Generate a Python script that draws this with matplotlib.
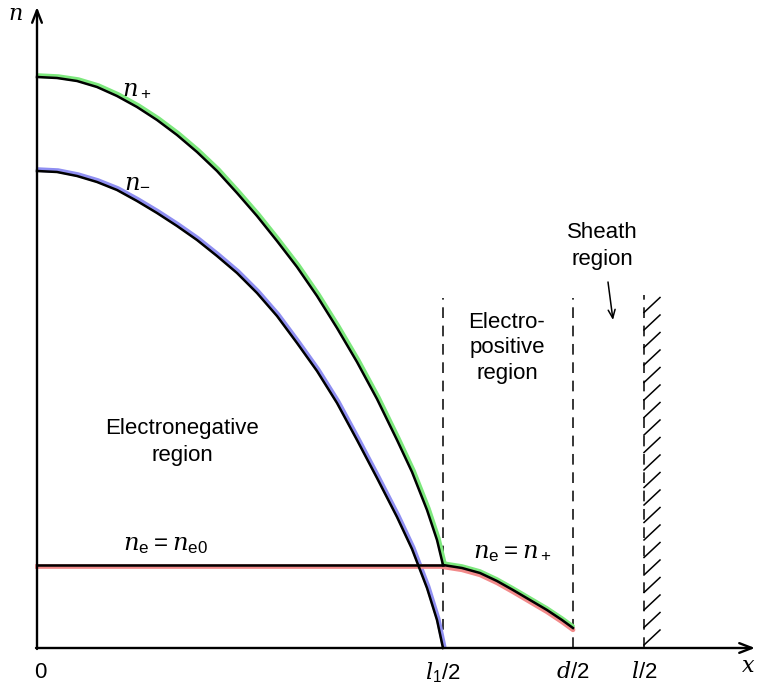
import numpy as np
import matplotlib
matplotlib.use("Agg")
import matplotlib.pyplot as plt
import matplotlib.transforms as mtransforms

plt.rcParams['mathtext.fontset'] = 'custom'
plt.rcParams['mathtext.it'] = 'DejaVu Serif:italic'
plt.rcParams['mathtext.rm'] = 'Liberation Sans'
plt.rcParams['mathtext.sf'] = 'Liberation Sans'
plt.rcParams['font.family'] = ['Liberation Sans', 'DejaVu Sans']

# ---- data (arbitrary units) ----
x_plus = [0, 20, 40, 60, 80, 100, 120, 140, 160, 180, 200, 220, 240, 260, 280,
          300, 320, 340, 360, 375, 390, 400, 406]
n_plus = [571, 570, 567, 561, 552, 541, 528, 513, 496, 477, 455, 432, 407, 381, 352,
          320, 286, 249, 208, 176, 138, 108, 83]

x_minus = [0, 20, 40, 60, 80, 100, 120, 140, 160, 180, 200, 220, 240, 260, 280,
           300, 320, 340, 360, 375, 390, 400, 406]
n_minus = [477, 476, 472, 466, 458, 447, 435, 422, 408, 392, 375, 355, 332, 305, 277,
           245, 208, 170, 131, 99, 60, 28, 0]

x_e_flat = [0, 406]
n_e_flat = [83, 83]

x_e_pos = [406, 425, 443, 460, 476, 493, 510, 525, 536]
n_e_pos = [83, 80, 75, 67, 58, 48, 38, 28, 20]

x_l1 = 406     # l1/2
x_d = 536      # d/2
x_l = 607      # l/2
tick_pos = [0, x_l1, x_d, x_l]
tick_labels = ['0', r'$l_1/2$', r'$d/2$', r'$l/2$']

# ---- figure ----
fig = plt.figure(figsize=(7.68, 6.84), dpi=100)
ax = fig.add_axes([0, 0, 1, 1])
ax.set_xlim(-37, 731)
ax.set_ylim(-36, 648)
ax.axis('off')

def off(dx, dy):
    return ax.transData + mtransforms.ScaledTranslation(dx / 72, dy / 72, fig.dpi_scale_trans)

green = '#7de87d'
blue = '#8f8ff2'
red = '#f28a8a'
hl_lw = 3.4
blk_lw = 1.8

# highlights
ax.plot(x_plus, n_plus, color=green, lw=hl_lw, transform=off(1.0, 1.0), solid_capstyle='round',
        solid_joinstyle='round', zorder=2)
ax.plot(x_minus, n_minus, color=blue, lw=hl_lw, transform=off(0.8, 1.0), solid_capstyle='round',
        solid_joinstyle='round', zorder=2)
ax.plot(x_e_flat, n_e_flat, color=red, lw=hl_lw, transform=off(0, -1.0), zorder=2)
ax.plot(x_e_pos, n_e_pos, color=red, lw=hl_lw, transform=off(0, -1.3), solid_capstyle='round',
        solid_joinstyle='round', zorder=2)
ax.plot(x_e_pos, n_e_pos, color=green, lw=hl_lw * 0.8, transform=off(0, 1.4), solid_capstyle='round',
        solid_joinstyle='round', zorder=2)

# black curves
for xs, ys in [(x_plus, n_plus), (x_minus, n_minus), (x_e_flat, n_e_flat), (x_e_pos, n_e_pos)]:
    ax.plot(xs, ys, color='black', lw=blk_lw, solid_joinstyle='round', zorder=3)

# axes with arrows
arrow = dict(arrowstyle='->,head_length=0.9,head_width=0.35', color='black', lw=1.7,
             shrinkA=0, shrinkB=0)
ax.annotate('', xy=(0, 641), xytext=(0, -1), arrowprops=arrow)
ax.annotate('', xy=(718, 0), xytext=(-1, 0), arrowprops=arrow)

# dashed boundaries
dash = (0, (7.0, 5.0))
ax.plot([x_l1, x_l1], [0, 350], color='black', lw=1.1, linestyle=dash, zorder=1)
ax.plot([x_d, x_d], [0, 350], color='black', lw=1.1, linestyle=dash, zorder=1)
ax.plot([x_l, x_l], [0, 353], color='black', lw=1.1, linestyle=dash, zorder=1)
# wall hatching
for y0 in np.arange(3, 340, 17.5):
    ax.plot([x_l, x_l + 16], [y0, y0 + 15], color='black', lw=1.1, zorder=1)

# tick labels
fs = 16
for xp, lab in zip(tick_pos, tick_labels):
    ax.text(xp + (3 if lab == '0' else 0), -25, lab, ha='center', va='center', fontsize=fs)
ax.text(711, -19, r'$x$', ha='center', va='center', fontsize=fs)
ax.text(-22, 633, r'$n$', ha='center', va='center', fontsize=fs)

# curve labels
mfs = 17.5
ax.text(100, 559, r'$n_+$', ha='center', va='center', fontsize=mfs)
ax.text(100, 467, r'$n_{-}$', ha='center', va='center', fontsize=mfs)
ax.text(128, 103, r'$n_{\mathrm{e}} = n_{\mathrm{e}0}$', ha='center', va='center', fontsize=mfs)
ax.text(476, 95, r'$n_{\mathrm{e}} = n_+$', ha='center', va='center', fontsize=mfs)

# region labels
ax.text(145, 206, 'Electronegative\nregion', ha='center', va='center', fontsize=fs, linespacing=1.4)
ax.text(470, 300, 'Electro-\npositive\nregion', ha='center', va='center', fontsize=fs, linespacing=1.25)
ax.text(565, 402, 'Sheath\nregion', ha='center', va='center', fontsize=fs, linespacing=1.35)
ax.annotate('', xy=(576, 328), xytext=(571, 366),
            arrowprops=dict(arrowstyle='->,head_length=0.6,head_width=0.25', color='black', lw=1.1,
                            shrinkA=0, shrinkB=0))

fig.savefig('out.png', dpi=100)
